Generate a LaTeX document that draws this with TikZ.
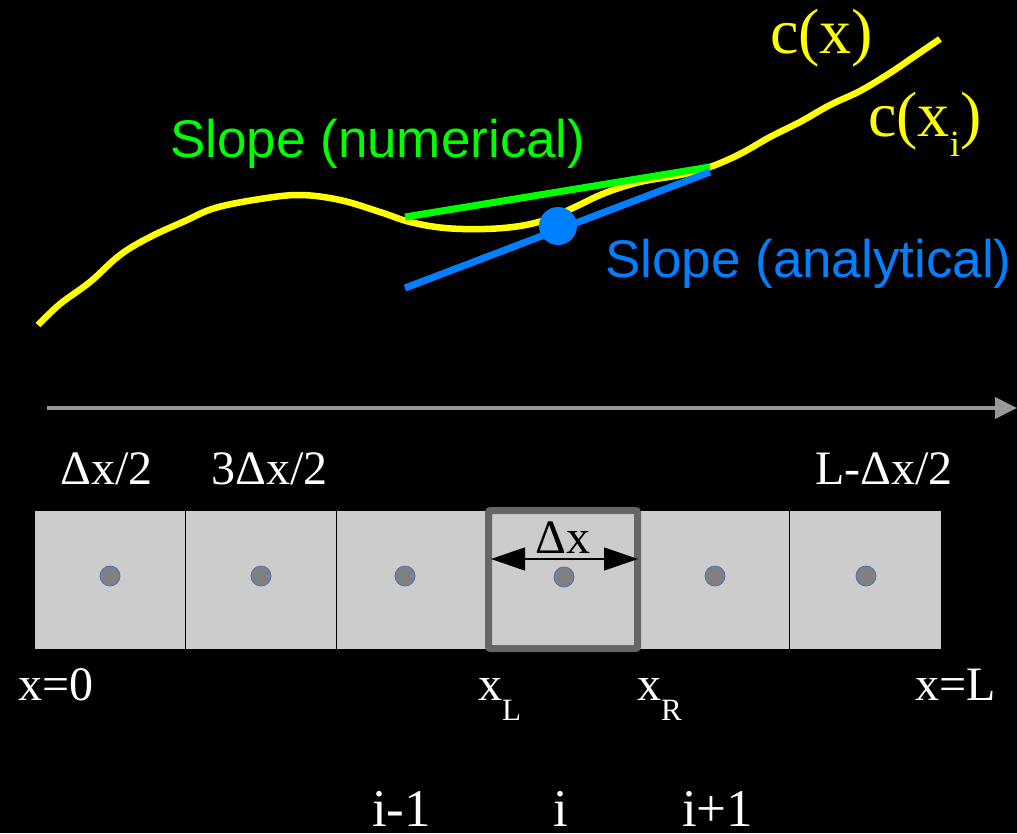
\documentclass[tikz,border=0pt]{standalone}
\usepackage{fontspec}
\setmainfont{Liberation Serif}
\setsansfont{Liberation Sans}
\usetikzlibrary{arrows.meta}
\definecolor{cyel}{HTML}{FFFF00}
\definecolor{cgrn}{HTML}{00FF00}
\definecolor{cblu}{HTML}{0080FF}
\definecolor{ccell}{HTML}{CCCCCC}
\definecolor{cframe}{HTML}{666666}
\definecolor{caxis}{HTML}{999999}
\definecolor{cdot}{HTML}{808080}
\definecolor{cdotb}{HTML}{4472C4}
\begin{document}
\begin{tikzpicture}[x=1pt,y=-1pt,
  lbl/.style={anchor=base west, inner sep=0, text=white, font=\fontsize{48}{48}\selectfont},
  ilbl/.style={anchor=base west, inner sep=0, text=white, font=\fontsize{53}{53}\selectfont},
  slopelbl/.style={anchor=base west, inner sep=0, font=\sffamily\fontsize{53}{53}\selectfont},
  clbl/.style={anchor=base west, inner sep=0, text=cyel, font=\fontsize{64}{64}\selectfont},
  cell/.style={minimum width=151pt, minimum height=138pt, inner sep=0, fill=ccell, draw=none},
  cdotst/.style={circle, minimum size=20pt, inner sep=0, fill=cdot, draw=cdotb, line width=0.8pt},
  sep/.style={black, line width=1.3pt},
  ycurve/.style={cyel, line width=6.5pt},
]
\fill[black] (0,0) rectangle (1017,833);
\useasboundingbox (0,0) rectangle (1017,833);

% yellow curve c(x)
\draw[ycurve] plot[smooth, tension=0.6] coordinates {
 (38,325) (60,304) (90,282) (120,255) (150,237) (185,221) (215,208) (260,199) (300,195)
 (340,200) (380,212) (410,222) (445,228) (485,229) (520,226) (548,219) (575,207)
 (605,193) (640,182) (680,175) (710,167) (740,154) (770,137) (800,122) (830,105)
 (860,91) (890,73) (915,56) (940,39)};

% numerical slope (green)
\coordinate (gL) at (405,217);
\coordinate (gR) at (710,167);
\draw[cgrn, line width=7pt] (gL) -- (gR);

% analytical slope (blue)
\coordinate (bL) at (405,288);
\coordinate (bR) at (710,172);
\node[circle, fill=cblu, minimum size=38pt, inner sep=0] (pt) at (558,226) {};
\draw[cblu, line width=7pt] (bL) -- (bR);

\node[clbl] (cx) at (770,53) {c(x)};
\node[clbl] (cxi) at (868,136) {c(x\raisebox{-20pt}{\fontsize{37}{37}\selectfont i})};
\node[slopelbl, text=cgrn] (snum) at (170,157) {Slope (numerical)};
\node[slopelbl, text=cblu] (sana) at (605,277) {Slope (analytical)};

% axis arrow
\coordinate (ax0) at (47,408);
\coordinate (ax1) at (1017,408);
\draw[caxis, line width=4pt, -{Triangle[length=22pt,width=21pt]}] (ax0) -- (ax1);

% cells
\node[cell] (c1) at (110,579.5) {};
\node[cell] (c2) at (260.5,579.5) {};
\node[cell] (c3) at (411.5,579.5) {};
\node[cell] (c4) at (562.5,579.5) {};
\node[cell] (c5) at (714,579.5) {};
\node[cell] (c6) at (865,579.5) {};
\draw[sep] (c1.north east) -- (c1.south east);
\draw[sep] (c2.north east) -- (c2.south east);
\draw[sep] (c3.north east) -- (c3.south east);
\draw[sep] (c5.north east) -- (c5.south east);
\draw[cframe, line width=7pt, rounded corners=2pt] (488.5,510.5) rectangle (637.5,648.5);

% cell centres
\node[cdotst] (d1) at (110,576) {};
\node[cdotst] (d2) at (261,576) {};
\node[cdotst] (d3) at (405,576) {};
\node[cdotst] (d4) at (564,577) {};
\node[cdotst] (d5) at (715,576) {};
\node[cdotst] (d6) at (866,576) {};

% Delta x dimension arrow
\coordinate (aL) at (491,559);
\coordinate (aR) at (638,559);
\draw[black, line width=1.2pt, {Triangle[length=34pt,width=23pt]}-{Triangle[length=34pt,width=23pt]}] (aL) -- (aR);
\node[lbl, text=black] (dxl) at (535,553) {\char"0394x};
\node[lbl] (dx1) at (60,484) {\char"0394x/2};
\node[lbl] (dx3) at (211,484) {3\char"0394x/2};
\node[lbl] (dxL) at (815,484) {L-\char"0394x/2};

\node[lbl] (x0) at (18,700) {x=0};
\node[lbl] (xL) at (478,700) {x\raisebox{-20pt}{\fontsize{31}{31}\selectfont L}};
\node[lbl] (xR) at (637,700) {x\raisebox{-20pt}{\fontsize{31}{31}\selectfont R}};
\node[lbl] (xend) at (915,700) {x=L};

\node[ilbl] (im1) at (372,826) {i-1};
\node[ilbl] (ii) at (553,826) {i};
\node[ilbl] (ip1) at (682,826) {i+1};
\end{tikzpicture}
\end{document}
